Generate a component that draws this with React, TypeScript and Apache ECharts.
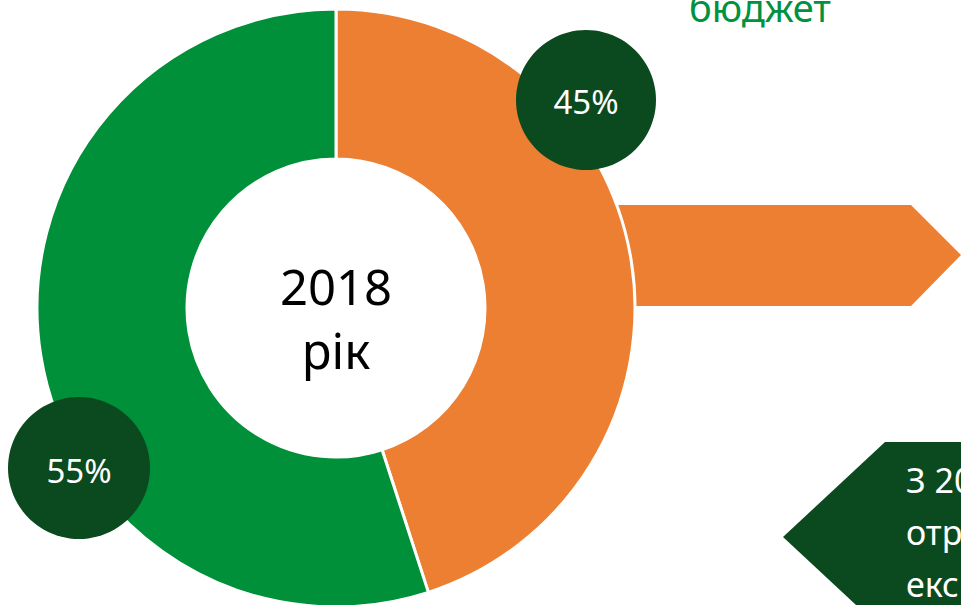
import React, { useEffect, useRef } from "react";
import * as echarts from "echarts";

const categories: string[] = ["Orange share", "Green share"];
const values: number[] = [45, 55];
const sliceColors: string[] = ["#ED7F32", "#009039"];
const centerLines: string[] = ["2018", "рік"];
const topText: string = "бюджет";
const boxLines: string[] = ["З 20", "отр", "екс"];

const DARK = "#0B4A1F";
const FONT = "'Noto Sans', 'Open Sans', sans-serif";

export default function App() {
  const ref = useRef<HTMLDivElement>(null);
  useEffect(() => {
    if (!ref.current) return;
    const chart = echarts.init(ref.current, undefined, { renderer: "svg" });
    const total = values.reduce((a, b) => a + b, 0);
    const pct = values.map((v) => Math.round((v / total) * 100) + "%");
    chart.setOption({
      animation: false,
      backgroundColor: "#ffffff",
      series: [
        {
          type: "pie",
          z: 2,
          center: [336, 308],
          radius: [149, 299],
          startAngle: 90,
          clockwise: true,
          silent: true,
          label: { show: false },
          labelLine: { show: false },
          itemStyle: { borderColor: "#ffffff", borderWidth: 3 },
          data: categories.map((c, i) => ({
            name: c,
            value: values[i],
            itemStyle: { color: sliceColors[i] },
          })),
        },
      ],
      graphic: [
        {
          type: "polygon",
          z: -10,
          shape: {
            points: [
              [600, 205],
              [911, 205],
              [961, 255],
              [911, 306],
              [600, 306],
            ],
          },
          style: { fill: sliceColors[0] },
        },
        {
          type: "polygon",
          z: 10,
          shape: {
            points: [
              [885, 442],
              [990, 442],
              [990, 632],
              [885, 632],
              [783, 537],
            ],
          },
          style: { fill: DARK },
        },
        ...boxLines.map((t, i) => ({
          type: "text",
          z: 11,
          style: {
            text: t,
            x: 906,
            y: 480 + i * 52,
            fill: "#ffffff",
            fontSize: 34,
            fontFamily: FONT,
            align: "left",
            verticalAlign: "middle",
          },
        })),
        {
          type: "circle",
          z: 10,
          shape: { cx: 586, cy: 100, r: 70 },
          style: { fill: DARK },
        },
        {
          type: "text",
          z: 11,
          style: {
            text: pct[0],
            x: 586,
            y: 101,
            fill: "#ffffff",
            fontSize: 33,
            fontFamily: FONT,
            align: "center",
            verticalAlign: "middle",
          },
        },
        {
          type: "circle",
          z: 10,
          shape: { cx: 79, cy: 468, r: 71 },
          style: { fill: DARK },
        },
        {
          type: "text",
          z: 11,
          style: {
            text: pct[1],
            x: 79,
            y: 470,
            fill: "#ffffff",
            fontSize: 33,
            fontFamily: FONT,
            align: "center",
            verticalAlign: "middle",
          },
        },
        ...centerLines.map((t, i) => ({
          type: "text",
          z: 11,
          style: {
            text: t,
            x: 336,
            y: 286 + i * 64,
            fill: "#000000",
            fontSize: 49,
            fontFamily: FONT,
            align: "center",
            verticalAlign: "middle",
          },
        })),
        {
          type: "text",
          z: 11,
          style: {
            text: topText,
            x: 689,
            y: 7,
            fill: "#00923F",
            fontSize: 38,
            fontFamily: FONT,
            align: "left",
            verticalAlign: "middle",
          },
        },
      ],
    });
    return () => chart.dispose();
  }, []);
  return (
    <div
      ref={ref}
      style={{ width: 961, height: 605, position: "absolute", left: 0, top: 0 }}
    />
  );
}
